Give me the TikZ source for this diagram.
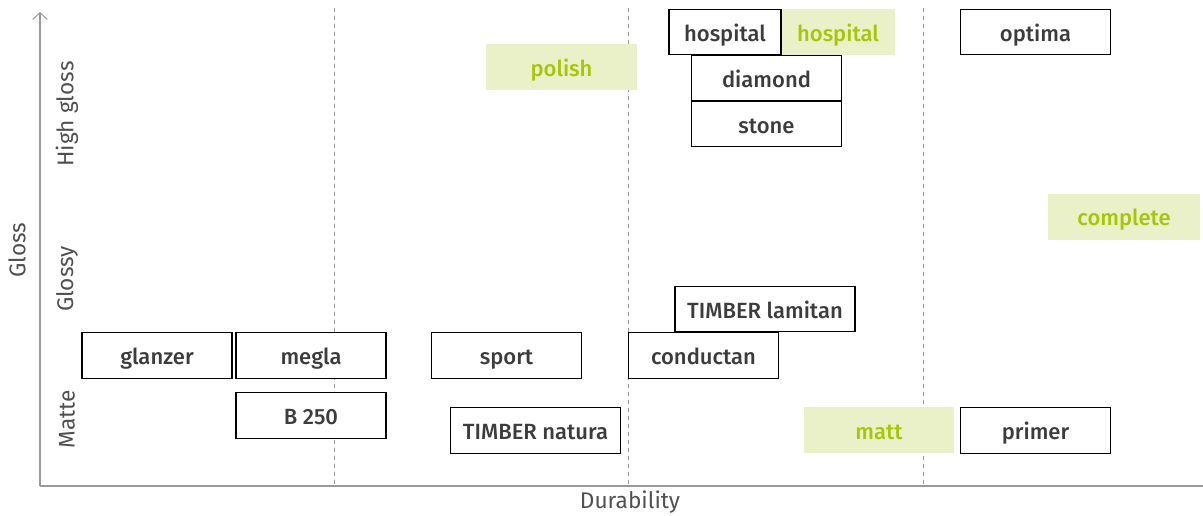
\documentclass[tikz,border=0pt]{standalone}
\usepackage{fontspec}
\setmainfont{Fira Sans}[BoldFont={Fira Sans Medium}]
\usepackage{tikz}
\usetikzlibrary{arrows.meta}
\definecolor{ink}{HTML}{3C3C3C}
\definecolor{axisgray}{HTML}{9A9A9A}
\definecolor{lime}{HTML}{A8C508}
\definecolor{limefill}{HTML}{EAF0C7}
\tikzset{
  prod/.style={draw=black, line width=0.8pt, fill=white, text=ink, font=\fontsize{16.5}{18}\selectfont\bfseries,
    minimum width=112.5pt, minimum height=34pt, inner sep=0pt, text height=14.5pt, text depth=1pt},
  hilite/.style={fill=limefill, text=lime, font=\fontsize{16.5}{18}\selectfont\bfseries,
    minimum width=113pt, minimum height=34.5pt, inner sep=0pt, text height=14.5pt, text depth=1pt},
  axis/.style={draw=axisgray, line width=0.8pt},
  grid/.style={draw=axisgray, dashed, line width=0.6pt},
  axlab/.style={text=ink!90, font=\fontsize{17}{19}\selectfont},
}
\begin{document}
\begin{tikzpicture}[x=0.75pt, y=-0.75pt]
  \useasboundingbox (0,0) rectangle (1203,515);
  % grid and axes
  \foreach \gx in {334,628,923}
    \draw[grid] (\gx,8) -- (\gx,486);
  \coordinate (O) at (40,486);
  \coordinate (ytop) at (40,12);
  \coordinate (xend) at (1203,486);
  \draw[axis, -{Straight Barb[length=5pt, width=11pt]}] (O) -- (ytop);
  \draw[axis] (O) -- (xend);
  \node[axlab, rotate=90] (gloss) at (17,250) {Gloss};
  \node[axlab, rotate=90] (high) at (67,114) {High gloss};
  \node[axlab, rotate=90] (glossy) at (67,279) {Glossy};
  \node[axlab, rotate=90] (matte) at (67,419) {Matte};
  \node[axlab] (dura) at (630,502) {Durability};
  % highlighted products
  \node[hilite] (polish) at (561.5,67) {polish};
  \node[hilite, minimum width=85.5pt] (hosp2) at (838,32) {hospital};
  \node[hilite, minimum width=114pt] (complete) at (1124,216.5) {complete};
  \node[hilite] (matt) at (879,430) {matt};
  % products
  \node[prod] (glanzer) at (157,355.5) {glanzer};
  \node[prod] (megla) at (311,355.5) {megla};
  \node[prod] (b250) at (311,415.5) {B 250};
  \node[prod] (sport) at (506.5,355.5) {sport};
  \node[prod, minimum width=127pt] (natura) at (535.5,430.5) {TIMBER natura};
  \node[prod] (conductan) at (703.5,355.5) {conductan};
  \node[prod, minimum width=135pt] (lamitan) at (765,309) {TIMBER lamitan};
  \node[prod, minimum width=84pt] (hosp1) at (725,32) {hospital};
  \node[prod] (diamond) at (766.5,78) {diamond};
  \node[prod] (stone) at (766.5,124) {stone};
  \node[prod] (optima) at (1035.5,32) {optima};
  \node[prod] (primer) at (1035.5,430.5) {primer};
\end{tikzpicture}
\end{document}
